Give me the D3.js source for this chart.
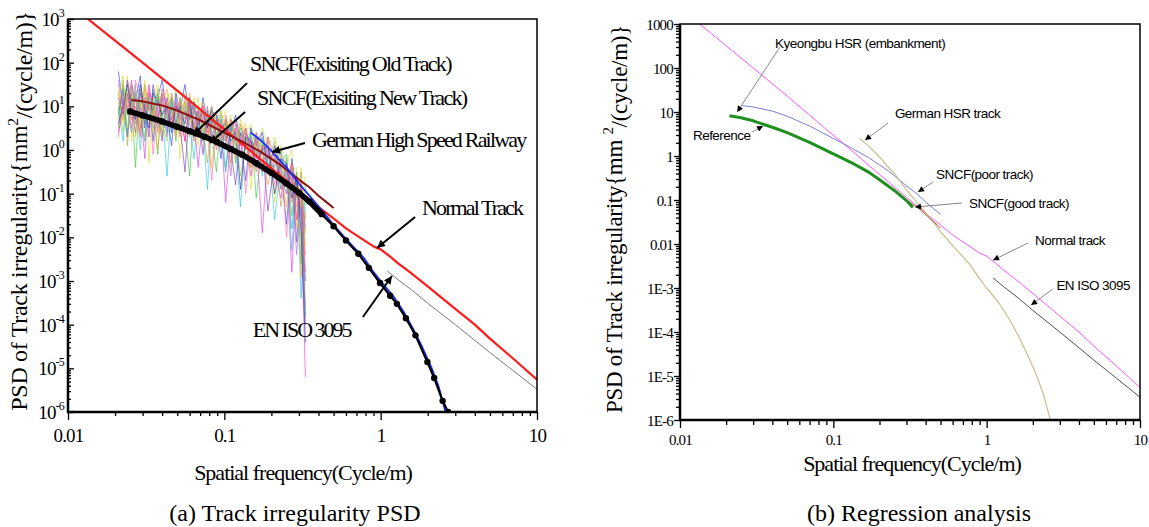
<!DOCTYPE html>
<html>
<head>
<meta charset="utf-8">
<script src="https://cdn.jsdelivr.net/npm/d3@7"></script>
<style>
  body { margin: 0; background: #fff; }
  svg text { font-family: "Liberation Serif", "Times New Roman", serif; fill: #000; }
  svg text.sans { font-family: "Liberation Sans", Arial, sans-serif; }
</style>
</head>
<body>
<svg id="chart" width="1149" height="527"></svg>
<script>
const SERIF = '"Liberation Serif", "Times New Roman", serif';
const SANS = '"Liberation Sans", Arial, sans-serif';

// ---- axis ticks ----
const xTickValues = [0.01, 0.1, 1, 10];
const xTickLabels = ["0.01", "0.1", "1", "10"];
const yTickValues = [1e-6, 1e-5, 1e-4, 1e-3, 1e-2, 1e-1, 1, 10, 100, 1000];
const yExponentsA = ["-6", "-5", "-4", "-3", "-2", "-1", "0", "1", "2", "3"];
const yTickLabelsB = ["1E-6", "1E-5", "1E-4", "1E-3", "0.01", "0.1", "1", "10", "100", "1000"];

// ---- curves [frequency, PSD] ----
const normalTrack = [[0.0134,1000],[0.02,320],[0.03,100],[0.05,23],[0.07,8.5],[0.09,4.0],[0.12,1.75],
  [0.15,0.9],[0.2,0.38],[0.3,0.115],[0.4,0.05],[0.5,0.027],[0.6,0.016],[0.75,0.0095],[0.9,0.0062],
  [1.0,0.0053],[1.15,0.0036],[1.3,0.0025],[1.5,0.0017],[2,0.00075],[3,0.00023],[4,0.0001],
  [5,4.8e-5],[7,1.7e-5],[10,5.5e-6]];
const germanHsr = [[0.148,2.5],[0.17,1.7],[0.2,0.95],[0.224,0.6],[0.25,0.4],[0.3,0.17],[0.35,0.09],
  [0.43,0.038],[0.5,0.019],[0.64,7.2e-3],[0.78,3.4e-3],[0.89,1.7e-3],[1.0,1.0e-3],[1.2,4.6e-4],
  [1.4,2.0e-4],[1.62,7.8e-5],[1.85,3e-5],[2.1,1.1e-5],[2.35,3.8e-6],[2.6,1e-6]];
const measuredMean = [[0.025,7.6],[0.03,6.2],[0.04,4.5],[0.05,3.4],[0.06,2.7],[0.075,2.0],[0.09,1.5],
  [0.11,1.05],[0.13,0.78],[0.16,0.5],[0.2,0.3],[0.25,0.17],[0.3,0.105],[0.35,0.066],[0.42,0.034],
  [0.5,0.018],[0.6,0.0085],[0.72,0.0042],[0.84,0.002],[0.99,9e-4],[1.15,4.6e-4],[1.27,3e-4],
  [1.45,1.4e-4],[1.67,5.7e-5],[1.99,1.4e-5],[2.2,6e-6],[2.49,1.8e-6],[2.7,1e-6]];
const enIso3095 = [[1.1,1.7e-3],[1.3,1.05e-3],[1.6,6e-4],[2,3.1e-4],[3,1.0e-4],[5,2.3e-5],[7,9e-6],[10,3.3e-6]];
const sncfPoor = [[0.0255,14],[0.03,13],[0.04,10.5],[0.05,8],[0.07,4.8],[0.095,2.75],[0.13,1.55],
  [0.17,0.92],[0.23,0.45],[0.3,0.21],[0.35,0.14],[0.4,0.09],[0.45,0.064],[0.5,0.047]];
const sncfGood = [[0.03,6.3],[0.05,3.4],[0.1,1.15],[0.2,0.3],[0.3,0.1],[0.34,0.075],[0.38,0.055],
  [0.42,0.04],[0.46,0.03],[0.5,0.023]];
const reference = [[0.021,8.2],[0.025,7.4],[0.03,6.3],[0.04,4.5],[0.05,3.4],[0.07,2.05],[0.1,1.12],
  [0.13,0.72],[0.17,0.43],[0.2,0.29],[0.25,0.165],[0.3,0.097],[0.33,0.068]];

// ---- measured track PSDs (log10 values) on a shared frequency grid ----
const measFreq = [0.021,0.0225,0.024,0.0255,0.027,0.029,0.031,0.033,0.035,0.0375,0.04,0.043,0.046,
  0.049,0.052,0.056,0.06,0.064,0.068,0.073,0.078,0.083,0.089,0.095,0.102,0.11,0.118,0.127,0.137,
  0.148,0.16,0.175,0.19,0.21,0.23,0.25,0.27,0.29,0.31,0.33];
const meas1 = [1.4,0.6,1.7,0.2,1.3,0.9,1.6,-0.3,1.2,1.5,0.4,1.3,0.9,1.4,-0.2,1.1,0.8,1.2,0.1,0.9,1.0,-0.4,0.8,0.6,0.9,-0.5,0.7,0.3,0.6,-0.9,0.4,0.1,0.3,-1.2,0.1,-0.3,0.0,-1.8,-0.4,-2.2];
const meas2 = [0.5,1.5,0.8,1.2,-0.4,1.4,0.6,1.1,0.9,-0.1,1.3,0.7,1.0,0.2,1.2,0.5,-0.6,1.0,0.7,0.3,0.9,0.4,-0.5,0.7,0.2,0.6,-0.3,0.4,0.0,0.5,-1.1,0.2,-0.4,0.1,-0.9,-0.2,-1.5,-0.5,-2.6,-0.8];
const meas3 = [1.0,0.2,1.3,0.9,1.5,0.0,1.1,0.7,1.4,0.5,0.9,-0.6,1.1,0.8,0.4,1.0,0.6,-0.2,0.9,0.5,-0.9,0.7,0.3,0.8,-0.4,0.5,0.1,-1.3,0.4,0.0,0.3,-0.6,0.2,-1.6,-0.3,-0.1,-2.3,-0.6,-3.4,-1.2];
const meas4 = [1.8,1.0,0.3,1.5,1.1,1.7,0.5,1.3,0.2,1.2,1.6,0.8,0.1,1.3,0.9,1.5,0.7,1.1,0.4,1.2,0.6,0.9,0.8,-0.2,0.7,0.4,0.8,0.2,-0.7,0.5,0.1,0.4,-0.5,0.1,-0.4,-1.7,-0.2,-0.9,-1.4,-3.0];
const meas5 = [0.3,1.2,0.9,1.6,0.6,1.0,-0.2,1.4,1.0,0.7,1.2,0.3,1.3,0.6,1.0,0.2,1.1,0.7,-0.4,0.8,0.5,0.9,0.2,0.6,-1.2,0.4,0.7,-0.1,0.3,-0.6,0.2,-1.9,0.0,-0.5,-1.1,-0.3,-2.8,-0.7,-1.6,-5.2];
const meas6 = [1.2,0.8,1.6,1.1,0.4,1.3,1.0,0.3,1.5,0.9,0.2,1.2,0.7,1.1,0.6,-0.5,1.0,0.5,0.9,-0.1,0.8,0.3,0.7,0.4,0.5,0.0,-0.8,0.4,0.1,0.2,-0.2,0.1,-1.4,-0.2,-0.6,-1.0,-0.4,-2.1,-0.8,-4.0];
const meas7 = [0.7,1.6,0.1,1.3,0.8,0.4,1.5,1.0,0.6,1.3,0.3,1.0,1.2,0.4,0.8,1.1,0.3,0.9,1.0,0.5,-0.3,0.8,0.5,0.9,0.3,0.7,0.2,0.6,0.0,-0.4,0.3,0.0,-0.2,0.2,-1.3,-0.5,-0.7,-1.1,-0.5,-1.9];
const meas8 = [1.5,0.9,1.2,0.5,1.6,1.2,0.8,1.3,-0.1,1.0,1.3,0.9,0.5,1.1,0.3,1.2,0.8,0.4,1.0,0.7,0.6,-0.7,0.6,0.2,0.8,0.1,0.5,0.3,-1.0,0.3,-0.3,0.0,0.2,-0.8,-0.1,-2.0,-0.6,-1.3,-0.9,-3.6];
const meas9 = [0.9,1.3,1.0,0.7,1.2,0.5,1.2,0.9,1.1,0.4,1.0,1.1,0.6,0.9,1.1,0.7,0.9,0.2,0.8,1.0,0.4,0.7,0.0,0.6,0.4,-0.3,0.5,0.1,0.4,0.1,-0.5,0.1,0.0,-0.3,-0.2,-0.7,-1.2,-0.8,-1.1,-2.4];
const meas10 = [1.1,0.4,1.4,1.0,0.6,1.1,0.3,1.2,0.8,1.4,0.6,0.2,1.0,0.9,0.5,0.8,1.0,0.6,0.3,0.9,0.7,0.5,0.4,0.1,0.6,0.3,0.4,-0.6,0.3,0.1,0.0,-0.3,-0.1,-0.5,-0.3,-0.9,-1.0,-1.4,-2.0,-1.5];
const meas11 = [1.3,0.7,1.1,1.5,0.3,1.0,1.4,0.6,1.2,0.0,1.1,1.4,0.9,0.3,1.2,0.8,1.3,0.5,0.7,1.1,0.2,0.9,0.6,0.1,0.7,0.5,-0.2,0.6,0.3,-0.4,0.2,-0.1,-0.8,0.0,-0.5,-1.3,-0.4,-1.0,-2.9,-1.4];
const meas12 = [0.8,1.4,0.4,1.1,1.3,0.7,0.2,1.2,0.9,1.3,0.7,0.4,1.2,0.6,1.0,0.4,0.8,1.1,0.5,0.2,0.9,0.6,0.8,0.3,-0.5,0.6,0.2,0.5,0.2,0.3,-0.1,0.3,-0.3,-0.4,0.0,-0.6,-1.8,-0.7,-1.2,-3.8];
const meas13 = [1.6,1.1,0.9,0.4,1.4,0.8,1.2,1.1,0.5,0.8,1.2,0.5,0.9,1.2,0.7,0.9,0.4,1.0,0.8,0.6,1.0,0.2,0.5,0.7,0.3,-0.6,0.6,0.2,0.5,0.0,0.2,0.4,-0.2,-0.1,-0.9,-0.4,-0.7,-2.4,-1.0,-1.8];
const meas14 = [0.6,1.0,1.5,0.9,0.7,1.5,0.9,0.5,1.3,1.1,0.8,1.0,0.4,1.0,0.9,0.6,1.2,0.3,0.6,0.9,0.5,1.0,0.3,0.5,0.6,0.2,0.4,-0.9,0.3,0.2,-0.4,0.0,0.1,-1.0,-0.2,-0.3,-1.1,-0.6,-1.9,-4.4];
const meas15 = [1.2,1.7,0.5,1.0,1.4,0.6,1.3,1.2,0.4,1.4,0.9,0.7,1.3,0.8,0.5,1.3,0.6,0.8,1.2,0.4,0.8,1.0,0.2,0.9,0.5,0.8,0.1,0.7,0.4,0.6,0.0,0.5,0.1,0.3,-0.2,-0.1,-0.5,-0.4,-1.3,-0.6];
const meas16 = [0.4,0.9,1.3,0.8,1.0,0.3,0.9,1.5,0.8,0.6,1.4,1.0,0.6,1.0,0.8,0.2,1.1,0.9,0.6,1.0,0.3,0.6,0.9,0.4,0.2,0.7,0.3,0.1,0.5,-0.2,0.4,-0.5,0.3,-0.2,-0.6,-0.8,-0.3,-1.6,-0.7,-2.8];
const measSeries = [meas1, meas2, meas3, meas4, meas5, meas6, meas7, meas8,
  meas9, meas10, meas11, meas12, meas13, meas14, meas15, meas16];
const measColors = ["#e6dc2a", "#3cc83c", "#2cc8e0", "#3444e0", "#e03ce0", "#7c3cc0", "#b4a43c", "#ff6cb0",
  "#f06a4a", "#8cd85c", "#f0a030", "#20a0a0", "#a070ff", "#2828a0", "#c0e040", "#ff4080"];

// ---- annotations: label anchor, arrow start, arrow tip (data coords) ----
const notesA = [
  { text: "SNCF(Exisiting Old Track)", at: [0.146, 98], from: [0.1396, 34], to: [0.0631, 2.21], ls: -1.7 },
  { text: "SNCF(Exisiting New Track)", at: [0.162, 16.4], from: [0.1356, 7.4], to: [0.081, 1.45], ls: -1.7 },
  { text: "German High Speed Railway", at: [0.364, 1.79], from: [0.328, 1.45], to: [0.2018, 0.9], ls: -1.8 },
  { text: "Normal Track", at: [1.84, 0.0496], from: [1.66, 0.0292], to: [0.948, 0.0057], ls: -1.9 },
  { text: "EN ISO 3095", at: [0.152, 8e-5], from: [0.77, 1.5e-4], to: [1.18, 1.3e-3], ls: -2 }
];
const notesB = [
  { text: "Kyeongbu HSR (embankment)", at: [0.0417, 370], from: [0.0449, 300], to: [0.0236, 10] },
  { text: "Reference", at: [0.01216, 3.0], from: [0.0295, 3.5], to: [0.0348, 4.8] },
  { text: "German HSR track", at: [0.252, 9.5], from: [0.2275, 5.6], to: [0.161, 2.3] },
  { text: "SNCF(poor track)", at: [0.468, 0.39], from: [0.447, 0.257], to: [0.357, 0.152] },
  { text: "SNCF(good track)", at: [0.767, 0.0855], from: [0.69, 0.0855], to: [0.341, 0.069] },
  { text: "Normal track", at: [2.07, 0.0123], from: [1.86, 0.0105], to: [1.1, 4.3e-3] },
  { text: "EN ISO 3095", at: [2.85, 1.17e-3], from: [2.7, 9.5e-4], to: [1.95, 4.1e-4] }
];

const svg = d3.select("#chart");
const defs = svg.append("defs");

function arrowMarker(id, w, h) {
  defs.append("marker")
    .attr("id", id)
    .attr("viewBox", "0 0 10 10")
    .attr("refX", 10).attr("refY", 5)
    .attr("markerUnits", "userSpaceOnUse")
    .attr("markerWidth", w).attr("markerHeight", h)
    .attr("orient", "auto")
    .append("path").attr("d", "M0,0L10,5L0,10z").attr("fill", "#000");
}
arrowMarker("headA", 12, 8);
arrowMarker("headB", 8, 6);

function isDecade(v) {
  const l = Math.log10(v);
  return Math.abs(l - Math.round(l)) < 1e-6;
}

function makePanel(box, id) {
  const x = d3.scaleLog().domain([0.01, 10]).range([box.left, box.right]);
  const y = d3.scaleLog().domain([1e-6, 1e3]).range([box.bottom, box.top]);
  defs.append("clipPath").attr("id", id)
    .append("rect")
    .attr("x", box.left).attr("y", box.top)
    .attr("width", box.right - box.left).attr("height", box.bottom - box.top);
  const plot = svg.append("g").attr("clip-path", `url(#${id})`);
  return { x, y, box, plot };
}

function drawFrame(p, o) {
  const { x, y, box } = p;
  const minorX = x.ticks().filter(v => !isDecade(v));
  const minorY = y.ticks().filter(v => !isDecade(v));

  // x axis
  svg.append("g").attr("transform", `translate(0,${box.bottom})`)
    .call(d3.axisBottom(x).tickValues(minorX).tickSize(o.xMinor).tickFormat(""))
    .call(g => g.select(".domain").remove());
  const gx = svg.append("g").attr("transform", `translate(0,${box.bottom})`)
    .call(d3.axisBottom(x).tickValues(xTickValues).tickSize(o.xMajor)
      .tickFormat((d, i) => xTickLabels[i]))
    .call(g => g.select(".domain").remove())
    .attr("font-family", null).attr("font-size", null);
  gx.selectAll(".tick text")
    .attr("y", o.xLabelDy).attr("dy", "0.35em")
    .style("font-family", SERIF)
    .attr("font-size", o.tickFont).attr("letter-spacing", o.tickLs);

  // y axis
  svg.append("g").attr("transform", `translate(${box.left},0)`)
    .call(d3.axisLeft(y).tickValues(minorY).tickSize(o.yMinor).tickFormat(""))
    .call(g => g.select(".domain").remove());
  const gy = svg.append("g").attr("transform", `translate(${box.left},0)`)
    .call(d3.axisLeft(y).tickValues(yTickValues).tickSize(o.yMajor).tickPadding(0).tickFormat(""))
    .call(g => g.select(".domain").remove())
    .attr("font-family", null).attr("font-size", null);
  gy.selectAll(".tick text")
    .attr("x", -o.yLabelGap).attr("dy", "0.35em")
    .style("font-family", SERIF)
    .attr("font-size", o.tickFont).attr("letter-spacing", o.tickLs)
    .each(function (d, i) { o.yLabel(d3.select(this), i); });

  svg.selectAll(".tick line").attr("stroke", "#000").attr("stroke-width", 1.3);

  // box
  svg.append("rect")
    .attr("x", box.left).attr("y", box.top)
    .attr("width", box.right - box.left).attr("height", box.bottom - box.top)
    .attr("fill", "none").attr("stroke", "#000").attr("stroke-width", 1.5);
  svg.append("path")
    .attr("d", `M${box.left},${box.top}V${box.bottom}H${box.right}`)
    .attr("fill", "none").attr("stroke", "#000").attr("stroke-width", 2.5);
}

function curve(p, data, color, width) {
  const line = d3.line().x(d => p.x(d[0])).y(d => p.y(d[1]));
  return p.plot.append("path").datum(data)
    .attr("d", line).attr("fill", "none")
    .attr("stroke", color).attr("stroke-width", width)
    .attr("stroke-linejoin", "round");
}

function notes(p, list, o) {
  list.forEach(n => {
    svg.append("line")
      .attr("x1", p.x(n.from[0])).attr("y1", p.y(n.from[1]))
      .attr("x2", p.x(n.to[0])).attr("y2", p.y(n.to[1]))
      .attr("stroke", o.color).attr("stroke-width", o.width)
      .attr("marker-end", `url(#${o.head})`);
    svg.append("text")
      .attr("x", p.x(n.at[0])).attr("y", p.y(n.at[1]))
      .attr("dy", "0.35em")
      .style("font-family", o.font)
      .attr("font-size", o.size)
      .attr("letter-spacing", n.ls !== undefined ? n.ls : o.ls)
      .text(n.text);
  });
}

function label(x, y, size, ls, text) {
  return svg.append("text")
    .attr("x", x).attr("y", y).attr("dy", "0.35em")
    .attr("text-anchor", "middle")
    .style("font-family", SERIF)
    .attr("font-size", size).attr("letter-spacing", ls)
    .text(text);
}

function yTitle(x, y, size, lead) {
  svg.append("text")
    .attr("transform", `translate(${x},${y}) rotate(-90)`)
    .attr("text-anchor", "middle").attr("dy", "0.35em")
    .style("font-family", SERIF)
    .attr("font-size", size).attr("letter-spacing", -0.3)
    .call(t => {
      t.append("tspan").text(lead);
      t.append("tspan").attr("font-size", size * 0.65).attr("dy", "-0.6em").text("2");
      t.append("tspan").attr("dy", "0.6em").text("/(cycle/m)}");
    });
}

// ================= panel (a) =================
const pa = makePanel({ left: 68, right: 537, top: 19, bottom: 412 }, "clipA");

measSeries.forEach((s, k) => {
  const pts = s.map((v, i) => [measFreq[i], Math.pow(10, v)]);
  curve(pa, pts, measColors[k], 0.8).attr("opacity", 0.8);
});
curve(pa, normalTrack, "#ff1a1a", 2.2);
curve(pa, sncfPoor, "#8b1010", 2);
curve(pa, germanHsr, "#1a2cff", 1.8);
curve(pa, enIso3095, "#7a7a7a", 1);
curve(pa, measuredMean.filter(d => d[0] <= 0.42), "#000", 5.5);
curve(pa, measuredMean, "#000", 2.2);
pa.plot.append("g").selectAll("circle")
  .data(measuredMean).join("circle")
  .attr("cx", d => pa.x(d[0])).attr("cy", d => pa.y(d[1]))
  .attr("r", 3.2).attr("fill", "#000");

drawFrame(pa, {
  xMinor: 4, xMajor: 8, yMinor: -3, yMajor: -6,
  xLabelDy: 23, yLabelGap: 4, tickFont: 19, tickLs: -0.8,
  yLabel: (t, i) => {
    t.append("tspan").text("10");
    t.append("tspan").attr("font-size", 12).attr("dy", "-0.75em").text(yExponentsA[i]);
  }
});

notes(pa, notesA, { color: "#000", width: 2, head: "headA", size: 22, ls: -1.8, font: SERIF });

yTitle(19, 211, 24, "PSD of Track irregularity{mm");
label(303, 472, 22, -1, "Spatial frequency(Cycle/m)");
label(295, 513, 24, 0, "(a) Track irregularity PSD");

// ================= panel (b) =================
const pb = makePanel({ left: 680, right: 1140, top: 24, bottom: 420 }, "clipB");

curve(pb, normalTrack, "#ff55ff", 1);
curve(pb, sncfPoor, "#7c7cdc", 1);
curve(pb, germanHsr, "#c4c08a", 1.2);
curve(pb, sncfGood, "#b0603c", 1);
curve(pb, reference, "#1f8f1f", 3);
curve(pb, enIso3095, "#3a3a3a", 0.9);

drawFrame(pb, {
  xMinor: 5, xMajor: 8, yMinor: 4, yMajor: 6,
  xLabelDy: 20, yLabelGap: 7, tickFont: 15, tickLs: -0.8,
  yLabel: (t, i) => t.text(yTickLabelsB[i])
});

notes(pb, notesB, { color: "#6a6a6a", width: 0.8, head: "headB", size: 13.5, ls: -0.55, font: SANS });

yTitle(614, 219, 23, "PSD of Track irregularity{mm ");
label(912, 463, 22, -1, "Spatial frequency(Cycle/m)");
label(919, 513, 24, 0, "(b) Regression analysis");
</script>
</body>
</html>
